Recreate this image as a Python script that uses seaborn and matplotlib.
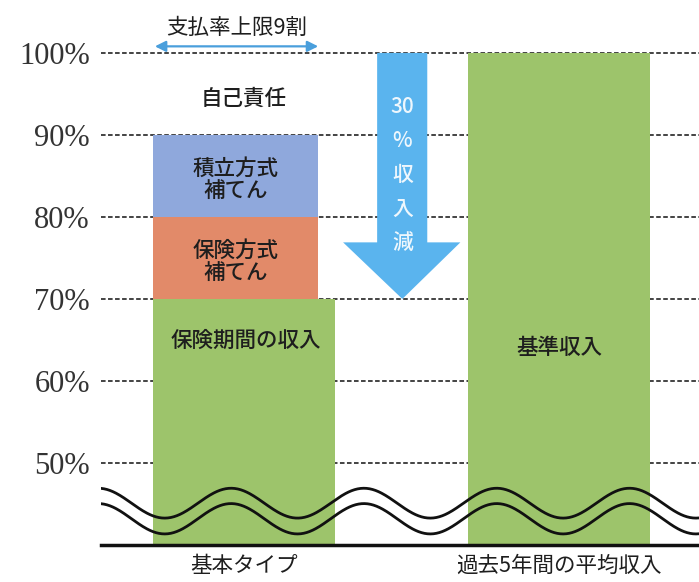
import numpy as np
import pandas as pd
import matplotlib
matplotlib.use("Agg")
import matplotlib.pyplot as plt
import seaborn as sns

# ---- data ----
categories = ["基本タイプ", "過去5年間の平均収入"]
base_values = [70, 100]                 # green bars (%)
base_labels = ["保険期間の収入", "基準収入"]
stack_labels = ["保険方式\n補てん", "積立方式\n補てん"]
stack_values = [10, 10]                 # segments on top of 70%
stack_colors = ["#e28a69", "#8fa8dc"]
yticks = [50, 60, 70, 80, 90, 100]
ytick_labels = ["50%", "60%", "70%", "80%", "90%", "100%"]
payout_cap = 90
reduction_label = "30\n%\n収\n入\n減"

sns.set_theme(style="white")
plt.rcParams['font.family'] = ['Noto Sans CJK JP', 'DejaVu Sans']

GREEN = "#9dc46b"
ARROW = "#5ab4ee"
TXT = "#1e1e1e"

fig = plt.figure(figsize=(6.99, 5.82), dpi=100)
ax = fig.add_axes([101/699, 37/582, 598/699, (545-16)/582])

bar_w = 0.578
seg_w = 0.524
df = pd.DataFrame({"cat": categories, "val": base_values})
sns.barplot(data=df, x="cat", y="val", order=categories, color=GREEN,
            saturation=1, width=bar_w, errorbar=None, ax=ax, zorder=2,
            linewidth=0)
green_left = -bar_w / 2

bottom = base_values[0]
for lab, v, c in zip(stack_labels, stack_values, stack_colors):
    n_before = len(ax.patches)
    sns.barplot(x=[categories[0]], y=[v], order=categories, color=c,
                saturation=1, width=seg_w, errorbar=None, ax=ax,
                bottom=bottom, zorder=2, linewidth=0)
    for p in ax.patches[n_before:]:
        p.set_x(green_left)
    ax.text(green_left + seg_w / 2, bottom + v / 2 - 0.5, lab, ha="center",
            va="center", fontsize=15.5, color=TXT, linespacing=1.0,
            fontweight="medium", zorder=5)
    bottom += v

ax.set_xlim(-0.454, 1.443)
ax.set_ylim(40, 104.5)

# labels in bars
ax.text(0.005, 64.9, base_labels[0], ha="center", va="center", fontsize=15.5,
        color=TXT, fontweight="medium", zorder=5)
ax.text(1.0, 64.0, base_labels[1], ha="center", va="center", fontsize=15.5,
        color=TXT, fontweight="medium", zorder=5)
ax.text(0.0, 94.4, "自己責任", ha="center", va="center", fontsize=15.5,
        color=TXT, fontweight="medium", zorder=5)

# payout cap double arrow
ax.annotate("", xy=(-0.283, 100.8), xytext=(0.235, 100.8),
            arrowprops=dict(arrowstyle="<|-|>", color="#4a9fdc", lw=1.6,
                            mutation_scale=16, shrinkA=0, shrinkB=0),
            annotation_clip=False, zorder=6)
ax.text(-0.025, 103.1, "支払率上限9割", ha="center", va="center",
        fontsize=15.5, color=TXT, clip_on=False, zorder=6)

# big down arrow (100% -> 70%)
top = base_values[1]
tip = base_values[0]
head_start = tip + 6.9
sx0, sx1 = 0.422, 0.581
hx0, hx1, tx = 0.314, 0.686, 0.502
ax.fill([sx0, sx1, sx1, hx1, tx, hx0, sx0, sx0],
        [top, top, head_start, head_start, tip, head_start, head_start, top],
        color=ARROW, lw=0, zorder=4)
ax.text(0.502, 85.1, reduction_label, ha="center", va="center",
        fontsize=15, color="#eef7fd", linespacing=1.72,
        fontweight="medium", zorder=5)

# grid lines
for y in yticks:
    ax.axhline(y, color="#111111", lw=1.1, ls=(0, (3, 1.6)), zorder=1)

# wavy break lines
xs = np.linspace(-0.454, 1.443, 600)
px = 244 + 315 * xs
ax.plot(xs, 45.1 + 1.82 * np.cos(2 * np.pi * (px - 231) / 132.7),
        color="#111111", lw=2.0, zorder=6)
ax.plot(xs, 43.2 + 1.85 * np.cos(2 * np.pi * (px - 231) / 132.7),
        color="#111111", lw=2.0, zorder=6)

# axes styling
ax.set_yticks(yticks)
ax.set_yticklabels(ytick_labels, family="Liberation Serif", fontsize=22,
                   color="#333333")
ax.tick_params(axis="y", length=0, pad=8)
ax.tick_params(axis="x", length=0, pad=7, labelsize=15.5, labelcolor=TXT)
ax.set_xlabel("")
ax.set_ylabel("")
for s in ["top", "right", "left"]:
    ax.spines[s].set_visible(False)
ax.spines["bottom"].set_color("#111111")
ax.spines["bottom"].set_linewidth(2.5)
ax.spines["bottom"].set_zorder(7)
ax.grid(False)

fig.savefig("out.png", dpi=100)
